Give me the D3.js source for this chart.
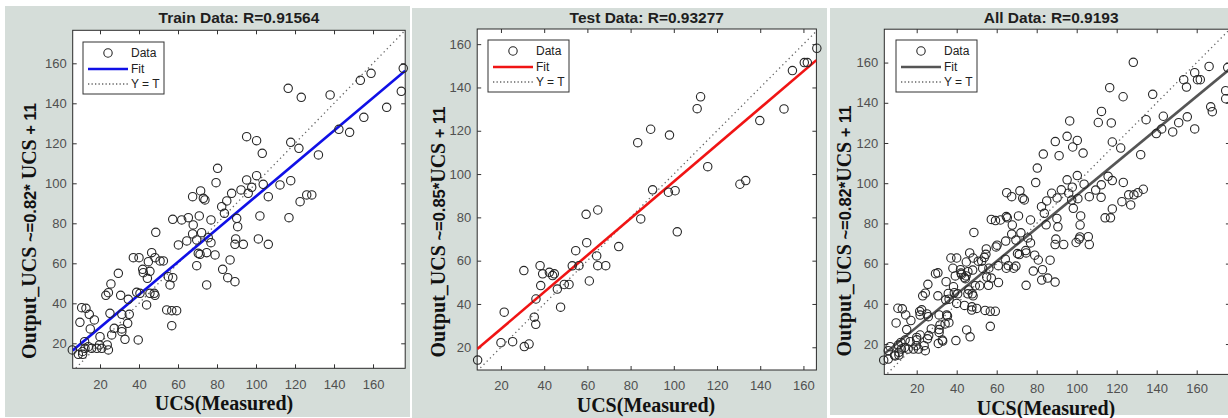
<!DOCTYPE html>
<html>
<head>
<meta charset="utf-8">
<script src="https://d3js.org/d3.v7.min.js"></script>
<style>
  body { margin: 0; background: #fff; }
  svg { display: block; }
</style>
</head>
<body>
<script>
// samples as [measured UCS, predicted UCS]
var trainData = [
  [116.5,147.5],[123.2,143],[138,144.2],[153.5,151.5],[159,155],[175.5,157.5],[174.5,146],[167,138],[155.3,133],[142.5,127],[148,125.5],
  [95.2,123.3],[100.3,121.3],[103.2,115],[117.8,120.5],[122,117.5],[132,114.2],
  [80.3,107.5],[79.5,100.3],[100.3,103.8],[95.2,101.7],[92.3,96.7],[97.8,98],[103.7,99.5],[112.3,99.2],[117.8,101.3],[106.3,93.3],[96,95],[87.5,95],[85,91.2],[82.4,88.3],[83.8,85],
  [67.5,93.3],[71.6,96.2],[73,92.5],[73.8,91.7],
  [122.6,90.8],[126,94.2],[128.6,94.2],[116.9,82.8],[102,83.7],[90.1,82.5],[90.6,78.3],[76.9,81.7],[70.9,83.7],[65.3,82.8],[61.9,81.7],[57.3,82],[67.8,79.2],[67.5,74.7],[72.1,75.3],[69.6,71.7],[64.5,71.2],[60.2,69.2],[76.9,70.3],[75.5,72.8],[89.6,72.2],[89.2,69.5],[93.5,69.5],[101.2,72.2],[106.3,69.5],
  [48.6,75.5],[70.4,65],[74.7,65.3],[79,64.2],[71.3,64.5],[69.6,58.8],[86.7,61.7],[82.9,57],[85.5,52.8],[89.2,50.8],[74.7,49.2],
  [37.1,62.8],[40,62.8],[46.5,65.3],[44.8,60.8],[48.2,62.8],[50.8,61.2],[52.5,61.2],[41.9,57],[42.2,55.3],[45.6,56],[44.3,52.5],[55,53.3],[57.3,52.8],[55.9,49.2],
  [29.4,55],[25.6,49.7],[24.3,45.3],[23,44],[30.6,44],[38.8,45.5],[40.5,45],[45.6,45],[47.8,45],[48.2,44],[34.5,42],
  [43.9,39.2],[54.2,36.7],[56.8,36.3],[59.3,36.3],[56.8,28.8],[10.6,37.8],[12.8,37.5],[9.7,30.5],[14.5,34.5],[17.1,31.7],[15,27.2],
  [25.1,35],[31.2,34.5],[35,34.5],[34.2,30],[31.2,27.2],[31.2,25.8],[27.3,27.5],[26,24.2],[32.8,22],[39.6,21.7],[20,23.3],[19.7,19.2],
  [20.9,17.5],[18.4,17.5],[15.7,17.5],[12.3,17.5],[11.1,15.9],[14,18.3],[23.7,19.2],[24.3,16.7],[5.8,16.7],[8.9,14.5],[11.1,14.5],[12.1,20.8]
];
var testData = [
  [166.2,158.1],[160.4,151.5],[161.8,151.5],[154.9,147.8],[151,130.1],[139.8,124.7],[110.8,130.2],[112.4,135.7],[89.3,120.7],[98,118],
  [83.3,114.5],[115.7,103.4],[130.6,95.3],[133.3,97],[90.2,92.7],[97.5,91.6],[100.6,92.3],[59.4,81.4],[64.8,83.4],[84.7,79.3],
  [101.6,73.3],[74.5,66.5],[59.7,68.3],[54.6,64.6],[64.3,62.2],[64.8,57.7],[68.5,57.7],[53,57.6],[56.1,57.7],[30.6,55.4],
  [38.1,57.7],[39.3,53.9],[42.4,54.6],[43.9,53.1],[44.7,53.9],[38.4,48.5],[46.1,46.9],[49.3,49],[51.5,49],[60.9,50.6],
  [36.2,42.3],[21.5,36.2],[20,22.1],[25.4,22.6],[30.8,20.3],[33,21.5],[35.4,33.9],[36.1,30.6],[47.6,38.5],[9.2,14.1]
];
// samples that only appear in the All panel
var validData = [
  [128.3,160.1],[174.5,142],[167.8,135.6],[159,127],[117.3,130],[134.7,131.6],[143.3,133.3],[96.5,131],[91.2,113.7],[109.5,96.6],
  [123.3,100.4],[112.2,93],[98.3,87.5],[117.8,87.2],[127,89.2],[101.7,79.2],[105.8,73.4],[99.7,70.5],[114.2,82.8],[65,95.3],
  [80.8,61.8],[78.3,56.3],[82.5,51.8],[54.8,67.3],[53.8,63.1],[48,56.8],[60.8,59],[65.8,59],[22.5,37],[25.8,33.6],
  [31.7,29.5],[21.7,24.5],[16.7,21.2],[10.8,19.5],[14.2,22],[6.7,18.7],[3.5,12],[5.8,12.5],[45,27],[46.7,23.6],
  [47.5,36.9],[50,37.7],[34.7,51],[35.8,45.2],[40,40.2],[21.7,34.4]
];
var allData = trainData.concat(testData, validData);

var titles = ["Train Data: R=0.91564", "Test Data: R=0.93277", "All Data: R=0.9193"];
var fitSlope = [0.82, 0.85, 0.82];
var fitIntercept = [11.5, 11.5, 12];
var labelCoef = [" ~=0.82*", " ~=0.85*", " ~=0.82*"];
var xDomains = [[6, 176.5], [9, 166], [3.8, 176.6]];
var yDomains = [[7.5, 176.5], [9.5, 167], [4.9, 176.6]];
var tickValues = [20, 40, 60, 80, 100, 120, 140, 160];
var legendNames = ["Data", "Fit", "Y = T"];

var datasets = [trainData, testData, allData];
var fitColors = ["#1010e6", "#f01414", "#555555"];

// page layout of each panel (pixels)
var panels = [
  { bg: [5, 6, 410, 417], left: 72.7, right: 405.2, top: 30.3, bottom: 368.3, pad: 11, yLabX: 36, yLabY: 231, xLabX: 224, xLabY: 410, legX: 83, legY: 42 },
  { bg: [412, 8, 827, 418], left: 477.2, right: 816.4, top: 29, bottom: 370, pad: 11, yLabX: 445, yLabY: 232, xLabX: 646, xLabY: 412, legX: 488, legY: 40 },
  { bg: [830, 8, 1228, 415], left: 884.3, right: 1229.9, top: 29.2, bottom: 374.4, pad: 9.5, yLabX: 851, yLabY: 231, xLabX: 1046, xLabY: 415, legX: 896, legY: 40 }
];

var width = 1228, height = 418;
var sans = "'Liberation Sans', Arial, Helvetica, sans-serif";
var serif = "'Liberation Serif', 'Times New Roman', serif";

var svg = d3.select("body").append("svg").attr("width", width).attr("height", height);

panels.forEach(function(p, i) {
  var g = svg.append("g");

  g.append("rect")
    .attr("x", p.bg[0]).attr("y", p.bg[1])
    .attr("width", p.bg[2] - p.bg[0]).attr("height", p.bg[3] - p.bg[1])
    .attr("fill", "#d5ddd9");

  g.append("rect")
    .attr("x", p.left).attr("y", p.top)
    .attr("width", p.right - p.left).attr("height", p.bottom - p.top)
    .attr("fill", "#fff");

  var x = d3.scaleLinear().domain(xDomains[i]).range([p.left, p.right]);
  var y = d3.scaleLinear().domain(yDomains[i]).range([p.bottom, p.top]);

  g.append("clipPath").attr("id", "clip" + i)
    .append("rect")
    .attr("x", p.left).attr("y", p.top)
    .attr("width", p.right - p.left).attr("height", p.bottom - p.top);

  // axes, ticks pointing inward on all four sides
  function styleAxis(sel, showText) {
    sel.select(".domain").remove();
    sel.selectAll(".tick line").attr("stroke", "#333");
    sel.selectAll(".tick text")
      .attr("fill", "#505050")
      .style("font-family", sans)
      .style("font-size", "13px")
      .style("display", showText ? null : "none");
  }
  g.append("g").attr("transform", "translate(0," + p.bottom + ")")
    .call(d3.axisBottom(x).tickValues(tickValues).tickSizeInner(-4).tickSizeOuter(0).tickPadding(p.pad))
    .call(styleAxis, true);
  g.append("g").attr("transform", "translate(0," + p.top + ")")
    .call(d3.axisTop(x).tickValues(tickValues).tickSizeInner(-4).tickSizeOuter(0))
    .call(styleAxis, false);
  g.append("g").attr("transform", "translate(" + p.left + ",0)")
    .call(d3.axisLeft(y).tickValues(tickValues).tickSizeInner(-4).tickSizeOuter(0).tickPadding(6))
    .call(styleAxis, true);
  g.append("g").attr("transform", "translate(" + p.right + ",0)")
    .call(d3.axisRight(y).tickValues(tickValues).tickSizeInner(-4).tickSizeOuter(0))
    .call(styleAxis, false);

  g.append("rect")
    .attr("x", p.left).attr("y", p.top)
    .attr("width", p.right - p.left).attr("height", p.bottom - p.top)
    .attr("fill", "none").attr("stroke", "#2b2b2b").attr("stroke-width", 1);

  var lo = Math.min(xDomains[i][0], yDomains[i][0]);
  var hi = Math.max(xDomains[i][1], yDomains[i][1]);

  // Y = T reference
  g.append("line")
    .attr("clip-path", "url(#clip" + i + ")")
    .attr("x1", x(lo)).attr("y1", y(lo))
    .attr("x2", x(hi)).attr("y2", y(hi))
    .attr("stroke", "#666").attr("stroke-width", 1.3)
    .attr("stroke-dasharray", "1.3,3.2");

  // fitted line
  var xd = xDomains[i];
  g.append("line")
    .attr("clip-path", "url(#clip" + i + ")")
    .attr("x1", x(xd[0])).attr("y1", y(fitSlope[i] * xd[0] + fitIntercept[i]))
    .attr("x2", x(xd[1])).attr("y2", y(fitSlope[i] * xd[1] + fitIntercept[i]))
    .attr("stroke", fitColors[i]).attr("stroke-width", 2.6);

  // data
  g.append("g").selectAll("circle")
    .data(datasets[i])
    .enter()
    .append("circle")
    .attr("cx", function(d) { return x(d[0]); })
    .attr("cy", function(d) { return y(d[1]); })
    .attr("r", 4.2)
    .attr("fill", "none")
    .attr("stroke", "#262626")
    .attr("stroke-width", 1.1);

  // title
  g.append("text")
    .attr("x", (p.left + Math.min(p.right, 1226)) / 2 + (i == 2 ? -4 : 0))
    .attr("y", 23)
    .attr("text-anchor", "middle")
    .style("font-family", sans).style("font-weight", "bold").style("font-size", "15.5px")
    .attr("fill", "#1e1e1e")
    .text(titles[i]);

  // x label
  g.append("text")
    .attr("x", p.xLabX).attr("y", p.xLabY)
    .attr("text-anchor", "middle")
    .style("font-family", serif).style("font-weight", "bold").style("font-size", "20px")
    .attr("fill", "#111")
    .text("UCS(Measured)");

  // y label, mixed serif / sans pieces
  var yl = g.append("text")
    .attr("transform", "translate(" + p.yLabX + "," + p.yLabY + ") rotate(-90)")
    .attr("text-anchor", "middle")
    .attr("fill", "#111")
    .style("font-weight", "bold");
  yl.append("tspan").style("font-family", serif).style("font-size", "20px").text("Output_UCS");
  yl.append("tspan").style("font-family", sans).style("font-size", "16.5px").text(labelCoef[i]);
  yl.append("tspan").style("font-family", serif).style("font-size", "20px").text(i == 0 ? " UCS" : "UCS");
  yl.append("tspan").style("font-family", sans).style("font-size", "16.5px").text("  + 11");

  // legend
  var lg = g.append("g").attr("transform", "translate(" + p.legX + "," + p.legY + ")");
  lg.append("rect").attr("width", 81).attr("height", 52)
    .attr("fill", "#fff").attr("stroke", "#333").attr("stroke-width", 1);
  lg.append("circle").attr("cx", 25).attr("cy", 11).attr("r", 4.2)
    .attr("fill", "none").attr("stroke", "#262626").attr("stroke-width", 1.1);
  lg.append("line").attr("x1", 5).attr("x2", 45).attr("y1", 27).attr("y2", 27)
    .attr("stroke", fitColors[i]).attr("stroke-width", 2.6);
  lg.append("line").attr("x1", 5).attr("x2", 45).attr("y1", 42).attr("y2", 42)
    .attr("stroke", "#666").attr("stroke-width", 1.3).attr("stroke-dasharray", "1.3,2.2");
  lg.selectAll("text")
    .data(legendNames)
    .enter()
    .append("text")
    .attr("x", 48)
    .attr("y", function(d, k) { return 11 + k * 15.5; })
    .attr("dy", "0.35em")
    .style("font-family", sans).style("font-size", "12px")
    .attr("fill", "#222")
    .text(function(d) { return d; });
});
</script>
</body>
</html>
